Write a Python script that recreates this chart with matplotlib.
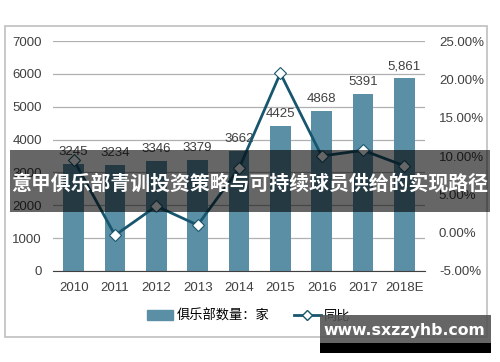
import matplotlib
matplotlib.use("Agg")
import matplotlib.pyplot as plt
from matplotlib.lines import Line2D
from matplotlib.patches import Patch, Rectangle

years = ["2010", "2011", "2012", "2013", "2014", "2015", "2016", "2017", "2018E"]
clubs = [3245, 3234, 3346, 3379, 3662, 4425, 4868, 5391, 5861]
club_labels = ["3245", "3234", "3346", "3379", "3662", "4425", "4868", "5391", "5,861"]
growth = [9.5, -0.34, 3.46, 0.99, 8.38, 20.8, 10.0, 10.74, 8.72]

title = "意甲俱乐部青训投资策略与可持续球员供给的实现路径"
watermark = "www.sxzzyhb.com"

bar_color = "#5b8fa6"
line_color = "#18566e"
text_color = "#404040"

plt.rcParams["font.family"] = ["Liberation Sans", "Noto Sans CJK SC", "DejaVu Sans"]

fig = plt.figure(figsize=(5, 3.62), dpi=100)
ax = fig.add_axes([0.106, 0.2514, 0.744, 0.6353])
ax2 = ax.twinx()

x = list(range(len(years)))

# bars for club counts
ax.bar(x, clubs, width=0.5, color=bar_color, zorder=2)
for xi, v, lab in zip(x, clubs, club_labels):
    ax.text(xi, v + 180, lab, ha="center", va="bottom", fontsize=9.5, color=text_color, zorder=5)

ax.set_ylim(0, 7000)
ax.set_yticks(range(0, 7001, 1000))
ax.set_xlim(-0.5, len(years) - 0.5)
ax.set_xticks(x)
ax.set_xticklabels(years)
ax.yaxis.grid(True, color="#b0b0b0", linewidth=0.9, zorder=0)
ax.set_axisbelow(True)
for s in ["top", "right", "left"]:
    ax.spines[s].set_visible(False)
ax.spines["bottom"].set_color("#404040")
ax.tick_params(axis="both", length=0, labelsize=9.5, colors=text_color, pad=8)

# growth line on the right axis
ax2.plot(x, growth, color=line_color, linewidth=2, marker="D", markersize=6,
         markerfacecolor="white", markeredgecolor=line_color, markeredgewidth=0.8, zorder=4)
ax2.set_ylim(-5, 25)
ax2.set_yticks(range(-5, 26, 5))
ax2.set_yticklabels([f"{t:.2f}%" for t in range(-5, 26, 5)])
for s in ax2.spines.values():
    s.set_visible(False)
ax2.tick_params(axis="y", length=0, labelsize=9.5, colors=text_color, pad=10)

# legend
handles = [Patch(color=bar_color),
           Line2D([0], [0], color=line_color, linewidth=2, marker="D", markersize=5,
                  markerfacecolor="white", markeredgecolor=line_color)]
fig.legend(handles, ["俱乐部数量：家", "同比"], loc="center", bbox_to_anchor=(0.497, 0.127),
           ncol=2, frameon=False, handlelength=2.0, columnspacing=1.9,
           handletextpad=0.25, prop={"family": ["Noto Sans CJK SC", "DejaVu Sans"], "size": 9.5})

# outer chart border
fig.patches.append(Rectangle((5 / 500, 1 - 337 / 362), 482 / 500, 311 / 362, transform=fig.transFigure,
                             fill=False, edgecolor="#bfbfbf", linewidth=1.2))

# dark title band
fig.patches.append(Rectangle((10 / 500, 1 - 212 / 362), 480 / 500, 62 / 362, transform=fig.transFigure,
                             facecolor="black", alpha=0.6, edgecolor="none", zorder=10))
fig.text(0.5, 1 - 183 / 362, title, ha="center", va="center", color="white", fontsize=14.3,
         fontweight="bold", family=["Noto Sans CJK SC", "DejaVu Sans"], zorder=11)

# watermark box
fig.patches.append(Rectangle((320 / 500, 1 - 343 / 362), 171 / 500, 28 / 362, transform=fig.transFigure,
                             facecolor="#555555", alpha=0.9, edgecolor="none", zorder=10))
fig.patches.append(Rectangle((320 / 500, 1 - 353 / 362), 171 / 500, 10 / 362, transform=fig.transFigure,
                             facecolor="black", edgecolor="none", zorder=10))
fig.text(404 / 500, 1 - 330 / 362, watermark, ha="center", va="center", color="white", fontsize=11.3,
         fontweight="bold", family=["DejaVu Sans"], zorder=11)

fig.savefig("out.png", dpi=100)
